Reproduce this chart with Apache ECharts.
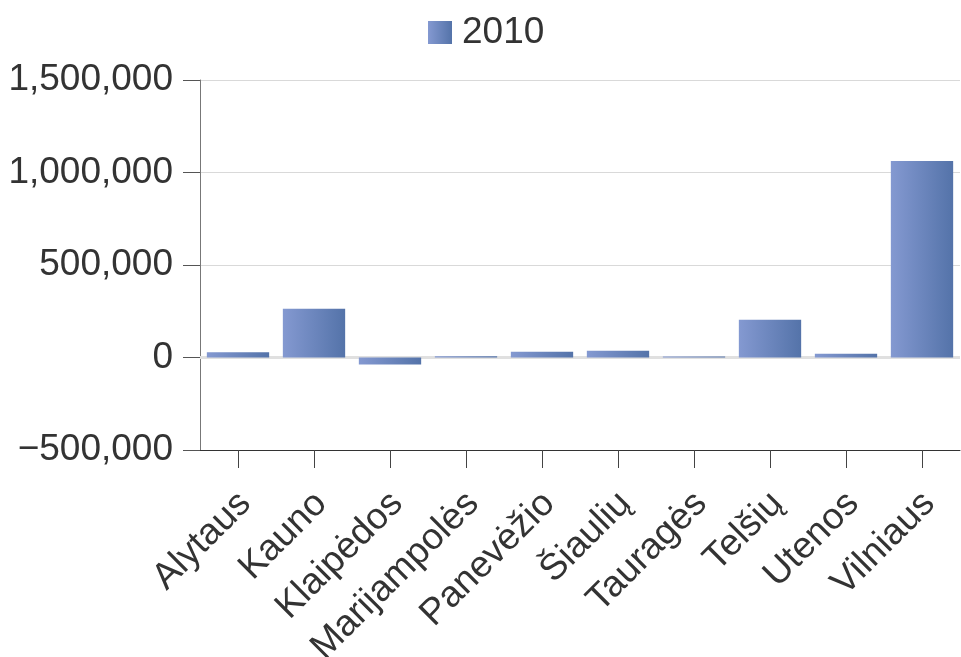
<!DOCTYPE html>
<html><head><meta charset="utf-8">
<script src="https://cdn.jsdelivr.net/npm/echarts@6/dist/echarts.min.js"></script>
<style>html,body{margin:0;padding:0;background:#fff}#c{width:961px;height:657px}</style>
</head><body><div id="c"></div>
<script>
const categories = ['Alytaus','Kauno','Klaipėdos','Marijampolės','Panevėžio','Šiaulių','Tauragės','Telšių','Utenos','Vilniaus'];
const values2010 = [28000, 263000, -38000, 7000, 31000, 36000, 6000, 204000, 20000, 1062000];
const yTicks = [-500000, 0, 500000, 1000000, 1500000];

const grad = new echarts.graphic.LinearGradient(0,0,1,0,[{offset:0,color:'#8499d1'},{offset:1,color:'#5473a9'}]);
const chart = echarts.init(document.getElementById('c'));
const font = 'Liberation Sans, Arial, sans-serif';
chart.setOption({
  animation:false,
  textStyle:{fontFamily:font},
  legend:{top:9,left:423,itemWidth:24,itemHeight:23,itemGap:10,icon:'rect',
    textStyle:{fontSize:37,color:'#333',fontFamily:font,padding:[0,0,0,5]},data:['2010']},
  grid:{left:200,right:1,top:80,bottom:207,containLabel:false,outerBoundsMode:'none'},
  xAxis:{type:'category',data:categories,
    axisLine:{onZero:false,lineStyle:{color:'#333',width:1}},
    axisTick:{show:true,alignWithLabel:true,length:18,lineStyle:{color:'#444',width:1}},
    axisLabel:{rotate:45,fontSize:37,color:'#333',margin:41,interval:0,fontFamily:font,
      verticalAlign:'top',lineHeight:20}},
  yAxis:{type:'value',min:yTicks[0],max:yTicks[yTicks.length-1],interval:500000,
    axisLine:{show:true,lineStyle:{color:'#777'}},
    axisTick:{show:true,length:17,lineStyle:{color:'#555'}},
    splitLine:{lineStyle:{color:'#d9d9d9'}},
    axisLabel:{fontSize:37,color:'#333',margin:27,fontFamily:font,
      formatter:v=>(v<0?'\u2212':'')+Math.abs(v).toLocaleString('en-US')}},
  series:[{name:'2010',type:'bar',data:values2010,barCategoryGap:'18%',
    itemStyle:{color:grad},
    markLine:{silent:true,symbol:'none',label:{show:false},z:1,
      lineStyle:{color:'#e0e0e0',width:3,type:'solid'},data:[{yAxis:0}]}}]
});
</script></body></html>
